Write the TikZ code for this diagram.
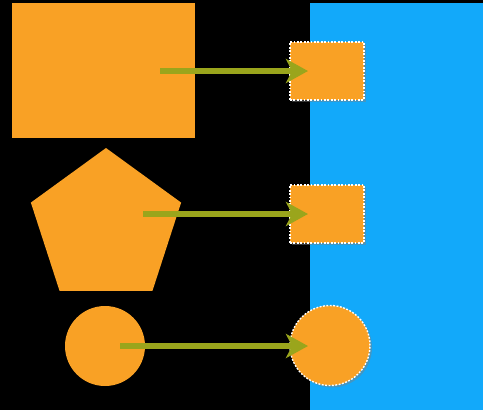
\documentclass[tikz,border=0pt]{standalone}
\usetikzlibrary{shapes.geometric,arrows.meta,shadows}
\definecolor{bgblack}{HTML}{000000}
\definecolor{orng}{HTML}{F9A125}
\definecolor{skyb}{HTML}{12A9FA}
\definecolor{olive}{HTML}{9AA51C}
\tikzset{
  srcshape/.style={fill=orng, draw=none, inner sep=0pt, outer sep=0pt},
  dstshape/.style={fill=orng, draw=white, line width=1.4pt, dash pattern=on 1.8pt off 1.6pt, inner sep=0pt, outer sep=0pt,
    drop shadow={opacity=0.45, shadow xshift=2pt, shadow yshift=-2pt}},
  moveto/.style={draw=olive, line width=6pt, -{Stealth[length=22pt,width=24pt,inset=6pt]}}
}
\begin{document}
\begin{tikzpicture}[x=1pt,y=-1pt]
\fill[bgblack] (0,0) rectangle (483,410);
\useasboundingbox (0,0) rectangle (483,410);
\fill[skyb] (310,3) rectangle (483,410);
% sources
\node[srcshape, rectangle, minimum width=183pt, minimum height=135pt] (bigrect) at (103.5,70.5) {};
\node[srcshape, regular polygon, regular polygon sides=5, minimum size=158pt] (penta) at (106,227) {};
\node[srcshape, circle, minimum size=80pt] (circ) at (105,346) {};
% targets
\node[dstshape, rectangle, minimum width=74pt, minimum height=58pt] (t1) at (327,71) {};
\node[dstshape, rectangle, minimum width=74pt, minimum height=58pt] (t2) at (327,214) {};
\node[dstshape, circle, minimum size=80pt] (t3) at (330,345.5) {};
% arrow starts
\coordinate (s1) at (160,71);
\coordinate (s2) at (143,214);
\coordinate (s3) at (120,346);
\draw[moveto] (s1) -- ([xshift=18pt]s1 -| t1.west);
\draw[moveto] (s2) -- ([xshift=18pt]s2 -| t2.west);
\draw[moveto] (s3) -- ([xshift=18pt]s3 -| t3.west);
\end{tikzpicture}
\end{document}
